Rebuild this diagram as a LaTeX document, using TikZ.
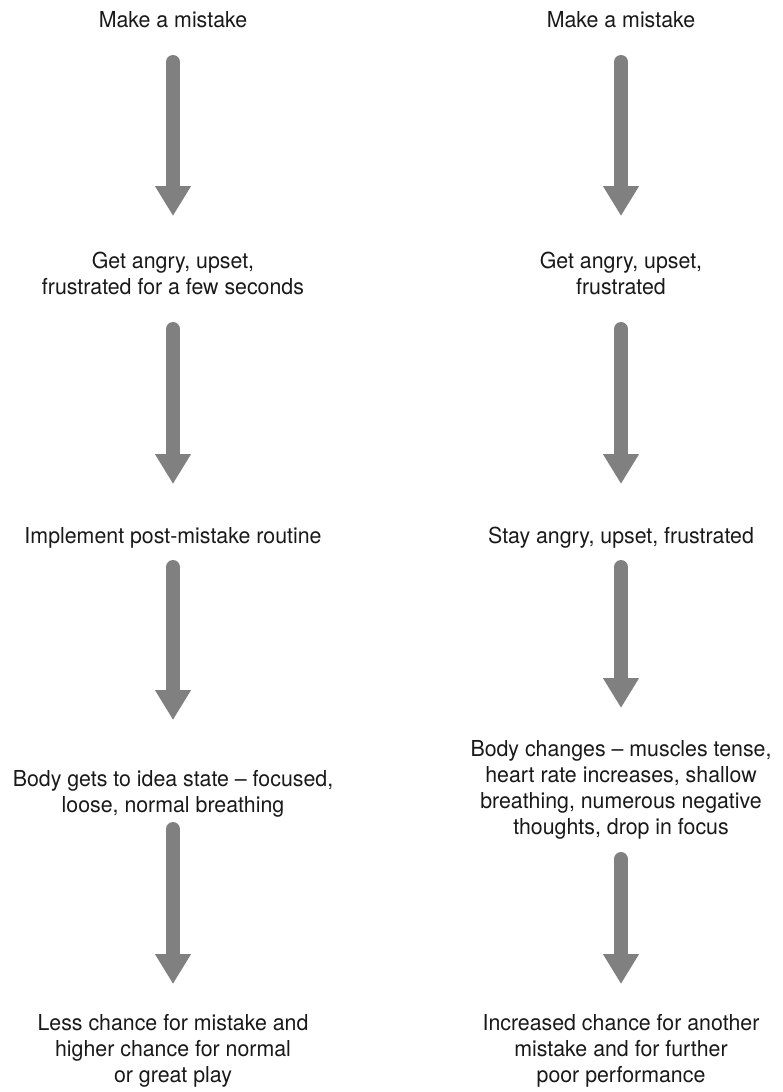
\documentclass[tikz,border=0pt]{standalone}
\usepackage{fontspec}
\setmainfont{TeX Gyre Heros}[FakeStretch=0.97]
\usetikzlibrary{arrows.meta}
\begin{document}
\begin{tikzpicture}[x=1pt,y=-1pt,
  lbl/.style={font=\fontsize{22}{26}\selectfont, align=center, inner sep=0pt, anchor=north, text=black!90},
  bigarrow/.style={draw=black!50, line width=14pt, line cap=round, -{Triangle[width=34pt,length=30pt]}, black!50}]
\useasboundingbox (0,0) rectangle (782,1092);
% left column
\node[lbl] (l1) at (173,11) {Make a mistake};
\node[lbl] (l2) at (173,252) {Get angry, upset,\\frustrated for a few seconds};
\node[lbl] (l3) at (173,527) {Implement post-mistake routine};
\node[lbl] (l4) at (173,770) {Body gets to idea state -- focused,\\loose, normal breathing};
\node[lbl] (l5) at (173,1014) {Less chance for mistake and\\higher chance for normal\\or great play};
% right column
\node[lbl] (r1) at (621,11) {Make a mistake};
\node[lbl] (r2) at (621,252) {Get angry, upset,\\frustrated};
\node[lbl] (r3) at (621,527) {Stay angry, upset, frustrated};
\node[lbl] (r4) at (621,740) {Body changes -- muscles tense,\\heart rate increases, shallow\\breathing, numerous negative\\thoughts, drop in focus};
\node[lbl] (r5) at (621,1014) {Increased chance for another\\mistake and for further\\poor performance};
% arrows
\draw[bigarrow] (l1.south |- 0,62) -- (l2.north |- 0,216);
\draw[bigarrow] (l2.south |- 0,329) -- (l3.north |- 0,484);
\draw[bigarrow] (l3.south |- 0,567) -- (l4.north |- 0,720);
\draw[bigarrow] (l4.south |- 0,829) -- (l5.north |- 0,984);
\draw[bigarrow] (r1.south |- 0,62) -- (r2.north |- 0,216);
\draw[bigarrow] (r2.south |- 0,329) -- (r3.north |- 0,484);
\draw[bigarrow] (r3.south |- 0,567) -- (r4.north |- 0,708);
\draw[bigarrow] (r4.south |- 0,859) -- (r5.north |- 0,984);
\end{tikzpicture}
\end{document}
